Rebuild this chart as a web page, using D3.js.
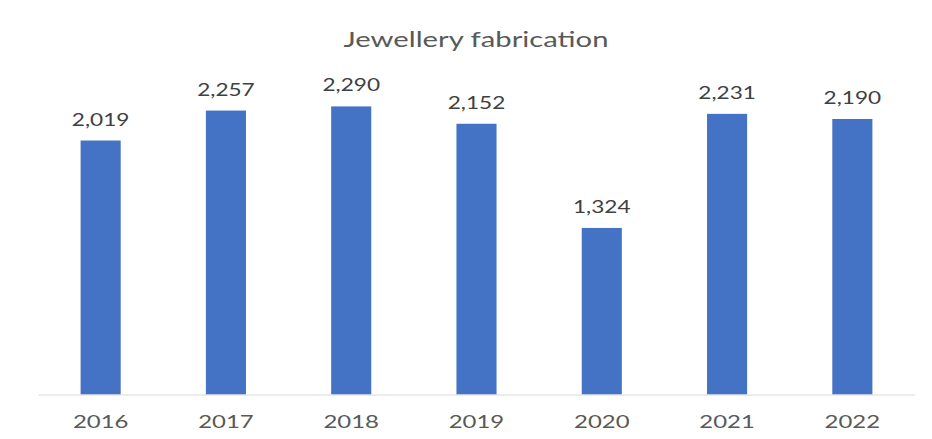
<!DOCTYPE html>
<html>
<head>
<meta charset="utf-8">
<script src="https://cdn.jsdelivr.net/npm/d3@7"></script>
<style>
  html, body { margin: 0; padding: 0; background: #fff; }
  svg { display: block; }
</style>
</head>
<body>
<svg id="chart" width="932" height="439"></svg>
<script>
const title = "Jewellery fabrication";
const years = ["2016", "2017", "2018", "2019", "2020", "2021", "2022"];
const values = [2019, 2257, 2290, 2152, 1324, 2231, 2190];

const svg = d3.select("#chart");
const W = 932, H = 439;
const margin = { left: 38, right: 17, top: 80, bottom: 44.5 };
const font = "Lato, 'Open Sans', sans-serif";
const stretch = 1.33;

const x = d3.scaleBand()
  .domain(years)
  .range([margin.left, W - margin.right])
  .paddingInner(0.68)
  .paddingOuter(0.34);

const y = d3.scaleLinear()
  .domain([0, 2500])
  .range([H - margin.bottom, margin.top]);

svg.append("text")
  .attr("transform", `translate(476,47) scale(${stretch},1)`)
  .attr("text-anchor", "middle")
  .attr("font-family", font)
  .attr("font-size", 22)
  .attr("fill", "#595959")
  .text(title);

svg.append("g")
  .selectAll("rect")
  .data(values)
  .join("rect")
  .attr("x", (d, i) => x(years[i]))
  .attr("y", d => y(d))
  .attr("width", x.bandwidth())
  .attr("height", d => y(0) - y(d))
  .attr("fill", "#4472C4");

svg.append("g")
  .selectAll("text")
  .data(values)
  .join("text")
  .attr("transform", (d, i) => `translate(${x(years[i]) + x.bandwidth() / 2},${y(d) - 15}) scale(${stretch},1)`)
  .attr("text-anchor", "middle")
  .attr("font-family", font)
  .attr("font-size", 17)
  .attr("fill", "#404040")
  .text(d => d3.format(",")(d));

const axis = d3.axisBottom(x).tickSize(0).tickPadding(0);
const gx = svg.append("g")
  .attr("transform", `translate(0,${y(0)})`)
  .call(axis);
gx.select(".domain").attr("stroke", "#d9d9d9").attr("stroke-width", 1.2);
gx.selectAll(".tick text")
  .attr("dy", null)
  .attr("y", null)
  .attr("transform", `translate(0,33) scale(${stretch},1)`)
  .attr("font-family", font)
  .attr("font-size", 18)
  .attr("fill", "#595959");
</script>
</body>
</html>
